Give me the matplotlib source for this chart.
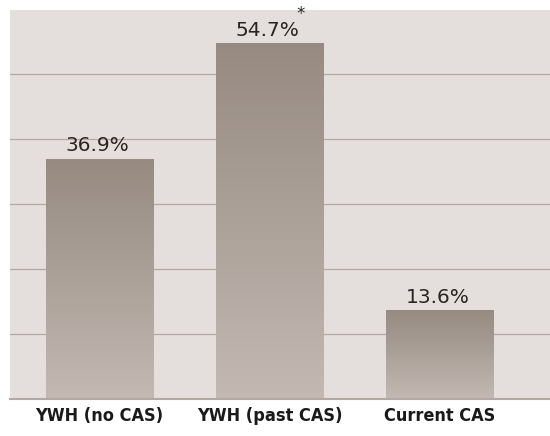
import numpy as np
import matplotlib.pyplot as plt
from matplotlib.colors import LinearSegmentedColormap

groups = ['YWH (no CAS)', 'YWH (past CAS)', 'Current CAS']
percents = [36.9, 54.7, 13.6]
value_labels = ['36.9%', '54.7%', '13.6%']
marks = ['', '*', '']

fig = plt.figure(figsize=(5.5, 4.36), dpi=100)
ax = fig.add_axes([10 / 550, 37 / 436, 540 / 550, 389 / 436])
ax.set_facecolor('#e4dfdc')

for y in range(10, 60, 10):
    ax.axhline(y, color='#b3a9a2', lw=0.9, zorder=1)

# dark at the top, fading lighter towards the baseline
shade = LinearSegmentedColormap.from_list('shade', ['#c3b9b2', '#968a81'])
grad = np.linspace(0, 1, 256).reshape(-1, 1)
width = 0.63
for i, v in enumerate(percents):
    ax.imshow(grad, cmap=shade, origin='lower', aspect='auto',
              extent=[i - width / 2, i + width / 2, 0, v], zorder=2)
    ax.text(i - 0.01, v + 0.6, value_labels[i], ha='center', va='bottom',
            fontsize=14.5, color='#2a2420', family='DejaVu Sans', zorder=3)
    if marks[i]:
        ax.text(i + 0.185, v + 3.1, marks[i], ha='center', va='bottom',
                fontsize=12, color='#2a2420', zorder=3)

ax.set_xlim(-0.526, 2.65)
ax.set_ylim(0, 59.85)
ax.set_xticks(range(len(groups)))
ax.set_xticklabels(groups, fontsize=13, fontweight='bold', color='#1a1a1a',
                   family='DejaVu Sans', fontstretch='condensed')
ax.tick_params(axis='x', length=0, pad=6)
ax.set_yticks([])
for s in ['top', 'right', 'left']:
    ax.spines[s].set_visible(False)
ax.spines['bottom'].set_color('#b3a9a2')
ax.spines['bottom'].set_linewidth(1.5)

fig.savefig('out.png', dpi=100, facecolor='white')
